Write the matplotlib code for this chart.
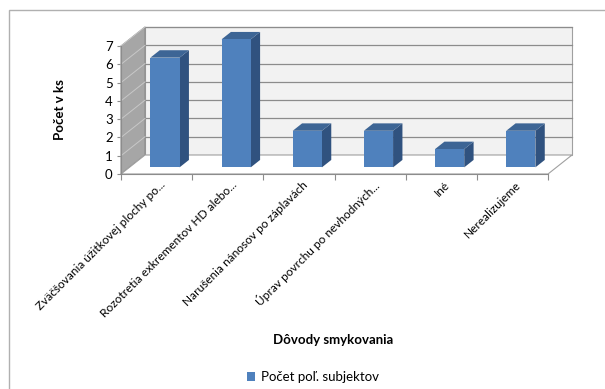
import matplotlib
matplotlib.use("Agg")
import matplotlib.pyplot as plt
from matplotlib.patches import Polygon, Rectangle, Patch
from matplotlib.transforms import offset_copy

plt.rcParams['font.family'] = ['Lato', 'DejaVu Sans']

categories = [
    "Zväčšovania úžitkovej plochy po...",
    "Rozotretia exkrementov HD alebo...",
    "Narušenia nánosov po záplavách",
    "Úprav povrchu po nevhodných...",
    "Iné",
    "Nerealizujeme",
]
values = [6, 7, 2, 2, 1, 2]
y_ticks = [0, 1, 2, 3, 4, 5, 6, 7]
series_name = "Počet poľ. subjektov"
x_title = "Dôvody smykovania"
y_title = "Počet v ks"

W, H = 605, 389
fig = plt.figure(figsize=(W / 100, H / 100), dpi=100)

# outer chart frame
fig.add_artist(Rectangle((9 / W, -0.1), 1.2, 1 - 10 / H + 0.1, transform=fig.transFigure,
                         fill=False, edgecolor="#B0B0B0", linewidth=1.0))

# front plane of the plot area
x0, x1, yb, yt = 121, 548, 174, 46
ax = fig.add_axes([x0 / W, 1 - yb / H, (x1 - x0) / W, (yb - yt) / H])
n = len(categories)
ymax = y_ticks[-1]
ax.set_xlim(0, n)
ax.set_ylim(0, ymax)

# depth offset (back minus front) in data units
DX = 24 / ((x1 - x0) / n)
DY = 19 / ((yb - yt) / ymax)

def P(x, y, d):
    return (x + DX * d, y + DY * d)

# walls
ax.add_patch(Polygon([P(0, 0, 1), P(n, 0, 1), P(n, ymax, 1), P(0, ymax, 1)],
                     closed=True, facecolor="#F2F2F2", edgecolor="#A0A0A0",
                     linewidth=0.8, clip_on=False, zorder=1))
ax.add_patch(Polygon([P(0, 0, 0), P(0, 0, 1), P(0, ymax, 1), P(0, ymax, 0)],
                     closed=True, facecolor="#A6A6A6", edgecolor="#8C8C8C",
                     linewidth=0.8, clip_on=False, zorder=1))
ax.add_patch(Polygon([P(0, 0, 0), P(n, 0, 0), P(n, 0, 1), P(0, 0, 1)],
                     closed=True, facecolor="white", edgecolor="#A0A0A0",
                     linewidth=0.8, clip_on=False, zorder=1))

# gridlines on back wall and side wall
for v in y_ticks[1:]:
    ax.plot([P(0, v, 1)[0], P(n, v, 1)[0]], [P(0, v, 1)[1]] * 2,
            color="#8C8C8C", linewidth=0.9, clip_on=False, zorder=2)
    ax.plot([P(0, v, 0)[0], P(0, v, 1)[0]], [P(0, v, 0)[1], P(0, v, 1)[1]],
            color="#C8C8C8", linewidth=0.7, clip_on=False, zorder=2)

# 3D-looking bars
bw = 0.41
d0, d1 = 0.35, 0.74
front_c, side_c, top_c = "#4F81BD", "#30527F", "#3D6595"
for i, v in enumerate(values):
    xl = i + 0.5 - bw / 2
    xr = xl + bw
    ax.add_patch(Polygon([P(xr, 0, d0), P(xr, 0, d1), P(xr, v, d1), P(xr, v, d0)],
                         closed=True, facecolor=side_c, edgecolor="none",
                         clip_on=False, zorder=3))
    ax.add_patch(Polygon([P(xl, v, d0), P(xr, v, d0), P(xr, v, d1), P(xl, v, d1)],
                         closed=True, facecolor=top_c, edgecolor="none",
                         clip_on=False, zorder=3))
    ax.add_patch(Polygon([P(xl, 0, d0), P(xr, 0, d0), P(xr, v, d0), P(xl, v, d0)],
                         closed=True, facecolor=front_c, edgecolor="none",
                         clip_on=False, zorder=4))

# axes styling
for s in ("top", "right"):
    ax.spines[s].set_visible(False)
ax.spines["left"].set_color("#8C8C8C")
ax.spines["bottom"].set_color("#8C8C8C")
ax.spines["left"].set_zorder(5)
ax.spines["bottom"].set_zorder(5)
ax.patch.set_visible(False)
ax.set_yticks(y_ticks)
ax.set_yticklabels([str(t) for t in y_ticks], fontsize=9.5, color="#000000")
ax.tick_params(axis="y", length=3, color="#8C8C8C", pad=3)
ax.set_xticks(range(n + 1))
ax.set_xticklabels([])
ax.tick_params(axis="x", length=4, color="#8C8C8C", direction="out")

# rotated category labels
for i, lab in enumerate(categories):
    tr = offset_copy(ax.transData, fig=fig, x=7, y=-9, units="dots")
    ax.text(i + 0.5, 0, lab, transform=tr, rotation=45, rotation_mode="anchor",
            ha="right", va="center", fontsize=8.6, color="#000000")

fig.text(333 / W, 1 - 340 / H, x_title, ha="center", va="center",
         fontsize=9.5, fontweight="bold")
fig.text(60 / W, 1 - 110 / H, y_title, ha="center", va="center",
         rotation=90, fontsize=9.5, fontweight="bold")

fig.legend(handles=[Patch(facecolor=front_c, edgecolor="none", label=series_name)],
           loc="center", bbox_to_anchor=(313 / W, 1 - 377 / H), frameon=False,
           fontsize=9.5, handlelength=0.6, handleheight=0.6, handletextpad=0.4)

fig.savefig("out.png", dpi=100)
